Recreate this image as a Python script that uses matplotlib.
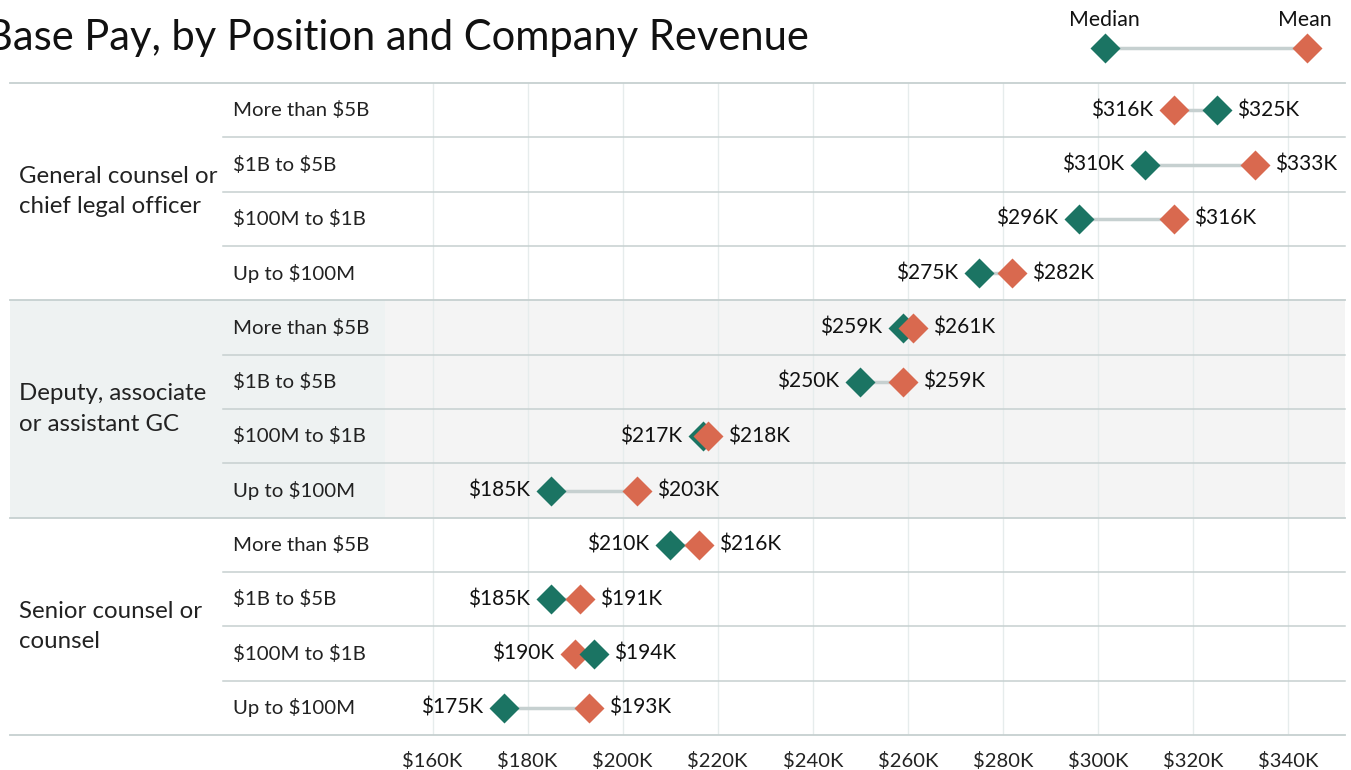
import matplotlib as mpl
import matplotlib.pyplot as plt
from matplotlib import transforms
from matplotlib.lines import Line2D
from matplotlib.patches import Rectangle

mpl.use('Agg')
plt.rcParams['font.family'] = ['Lato', 'DejaVu Sans']
plt.rcParams['text.parse_math'] = False

# dados (milhares de dolares)
grupos = ['General counsel or\nchief legal officer',
          'Deputy, associate\nor assistant GC',
          'Senior counsel or\ncounsel']
faixas = ['More than $5B', '$1B to $5B', '$100M to $1B', 'Up to $100M']
mediana = [325, 310, 296, 275,
           259, 250, 217, 185,
           210, 185, 194, 175]
media = [316, 333, 316, 282,
         261, 259, 218, 203,
         216, 191, 190, 193]
ticks = [160, 180, 200, 220, 240, 260, 280, 300, 320, 340]

VERDE = '#1b7463'
LARANJA = '#d9694f'
LINHA = '#c6d0d0'
GRADE = '#e6ecec'
W, H = 1351, 770

fig = plt.figure(figsize=(W / 100, H / 100), dpi=100)
ax = fig.add_axes([385 / W, 1 - 735 / H, (1345 - 385) / W, (735 - 83) / H])
ax.set_xlim(150, 352)
ax.set_ylim(12, 0)
for s in ax.spines.values():
    s.set_visible(False)
ax.set_yticks([])
ax.set_xticks(ticks)
ax.set_xticklabels(['$%dK' % t for t in ticks], fontsize=14.5, color='#222222')
ax.tick_params(axis='x', length=0, pad=12)

mix = transforms.blended_transform_factory(fig.transFigure, ax.transData)

# faixa cinza do grupo do meio
ax.axhspan(4, 8, color='#f4f4f4', zorder=0, lw=0)
ax.add_patch(Rectangle((10 / W, 4), 375 / W, 4, transform=mix, color='#eef2f2',
                       lw=0, clip_on=False, zorder=0))

for t in ticks:
    ax.axvline(t, color=GRADE, lw=1, zorder=1)

# separadores
for i in range(13):
    x0 = 10 if i % 4 == 0 else 223
    ax.plot([x0 / W, 1345 / W], [i, i], transform=mix, color=LINHA,
            lw=1.3 if i % 4 == 0 else 1.1, clip_on=False, zorder=2)

for g in range(3):
    ax.text(19 / W, g * 4 + 2, grupos[g], transform=mix, ha='left', va='center',
            fontsize=17.3, color='#222222', linespacing=1.55)
    for j in range(4):
        ax.text(233 / W, g * 4 + j + 0.5, faixas[j], transform=mix, ha='left',
                va='center', fontsize=14.7, color='#222222')

for i in range(12):
    y = i + 0.5
    a, b = mediana[i], media[i]
    ax.plot([a, b], [y, y], color=LINHA, lw=2.5, zorder=3)
    pts = [(a, VERDE), (b, LARANJA)]
    pts.sort(key=lambda p: p[0])
    for x, c in pts:
        ax.plot([x], [y], marker='D', ms=15, color=c, mec='none', zorder=4)
    ax.annotate('$%dK' % pts[0][0], (pts[0][0], y), xytext=(-15, 0),
                textcoords='offset points', ha='right', va='center',
                fontsize=15, color='#111111', zorder=5)
    ax.annotate('$%dK' % pts[1][0], (pts[1][0], y), xytext=(14.5, 0),
                textcoords='offset points', ha='left', va='center',
                fontsize=15, color='#111111', zorder=5)

# titulo
fig.text(-14 / W, 1 - 38 / H, 'Base Pay, by Position and Company Revenue',
         ha='left', va='center', fontsize=30, color='#111111')

# legenda
fig.add_artist(Line2D([1105 / W, 1307 / W], [1 - 48 / H, 1 - 48 / H],
                      transform=fig.transFigure, color=LINHA, lw=2.5))
fig.add_artist(Line2D([1105 / W], [1 - 48 / H], transform=fig.transFigure,
                      marker='D', ms=15, color=VERDE, mec='none'))
fig.add_artist(Line2D([1307 / W], [1 - 48 / H], transform=fig.transFigure,
                      marker='D', ms=15, color=LARANJA, mec='none'))
fig.text(1104 / W, 1 - 20 / H, 'Median', ha='center', va='center', fontsize=15.3,
         color='#111111')
fig.text(1305 / W, 1 - 20 / H, 'Mean', ha='center', va='center', fontsize=15.3,
         color='#111111')

fig.savefig('out.png', dpi=100)
